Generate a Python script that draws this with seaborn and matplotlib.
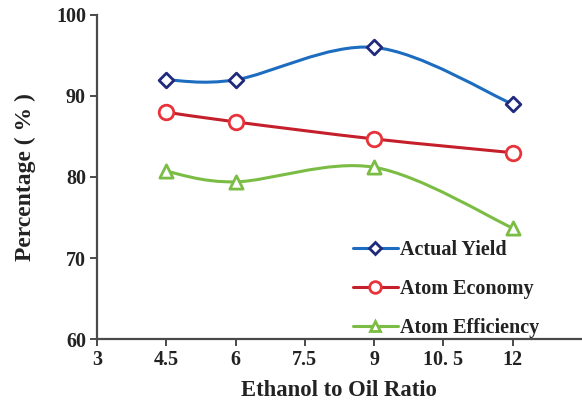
import numpy as np
import pandas as pd
import seaborn as sns
import matplotlib
matplotlib.use("Agg")
import matplotlib.pyplot as plt
from matplotlib.path import Path
from matplotlib.patches import PathPatch
from matplotlib.lines import Line2D

# Data
ratio = [4.5, 6, 9, 12]
actual_yield = [92.0, 92.0, 96.0, 89.0]
atom_economy = [88.0, 86.8, 84.7, 83.0]
atom_efficiency = [80.7, 79.4, 81.2, 73.7]
series_names = ["Actual Yield", "Atom Economy", "Atom Efficiency"]
x_ticks = [3, 4.5, 6, 7.5, 9, 10.5, 12]
x_tick_labels = ["3", "4.5", "6", "7.5", "9", "10. 5", "12"]
y_ticks = [60, 70, 80, 90, 100]

sns.set_theme(style="white")
plt.rcParams["font.family"] = ["Liberation Serif", "DejaVu Serif"]
plt.rcParams["font.weight"] = "bold"

styles = {
    "Actual Yield": dict(line="#1c6cc0", edge="#1f2a7c", marker="D", ms=7.5),
    "Atom Economy": dict(line="#c41f2a", edge="#e8333a", marker="o", ms=10.5),
    "Atom Efficiency": dict(line="#7bbd44", edge="#7bbd44", marker="^", ms=9.5),
}

df = pd.DataFrame({
    "ratio": ratio * 3,
    "value": actual_yield + atom_economy + atom_efficiency,
    "series": np.repeat(series_names, len(ratio)),
})

fig = plt.figure(figsize=(5.82, 4.03), dpi=100)
ax = fig.add_axes([0.1667, 0.1588, 0.833, 0.804])


def smooth_path(xs, ys, tension=1 / 6):
    """Cubic Bezier path through the points (Catmull-Rom style tangents)."""
    pts = np.column_stack([xs, ys]).astype(float)
    n = len(pts)
    verts = [pts[0]]
    codes = [Path.MOVETO]
    for i in range(n - 1):
        p_prev = pts[i - 1] if i > 0 else pts[i]
        p_next = pts[i + 2] if i + 2 < n else pts[i + 1]
        c1 = pts[i] + (pts[i + 1] - p_prev) * tension
        c2 = pts[i + 1] - (p_next - pts[i]) * tension
        verts += [c1, c2, pts[i + 1]]
        codes += [Path.CURVE4] * 3
    return Path(verts, codes)


for name in series_names:
    st = styles[name]
    sub = df[df["series"] == name]
    ax.add_patch(PathPatch(smooth_path(sub["ratio"], sub["value"]),
                           facecolor="none", edgecolor=st["line"], lw=2.2,
                           zorder=2))
    sns.scatterplot(data=sub, x="ratio", y="value", ax=ax, marker=st["marker"],
                    s=st["ms"] ** 2, facecolor="white", edgecolor=st["edge"],
                    linewidth=2.0, zorder=3, legend=False)

ax.set_xlim(3, 13.5)
ax.set_ylim(60, 100)
ax.set_xticks(x_ticks)
ax.set_xticklabels(x_tick_labels)
ax.set_yticks(y_ticks)

for side in ["top", "right"]:
    ax.spines[side].set_visible(False)
for side in ["left", "bottom"]:
    ax.spines[side].set_color("#4a4a4a")
    ax.spines[side].set_linewidth(1.6)

ax.tick_params(axis="both", direction="out", length=5, width=1.4,
               color="#4a4a4a", labelsize=14.5, labelcolor="#222222",
               left=True, bottom=True, pad=3)
for lbl in ax.get_xticklabels() + ax.get_yticklabels():
    lbl.set_fontweight("bold")

ax.set_xlabel("Ethanol to Oil Ratio", fontsize=16.3, fontweight="bold",
              color="#222222", labelpad=7)
ax.set_ylabel("Percentage ( % )", fontsize=17, fontweight="bold",
              color="#222222", labelpad=14)

handles = [
    Line2D([], [], color=styles[n]["line"], lw=2.2, marker=styles[n]["marker"],
           markersize=styles[n]["ms"] * 0.8, markerfacecolor="white",
           markeredgecolor=styles[n]["edge"], markeredgewidth=2.0)
    for n in series_names
]
leg = ax.legend(handles, series_names, loc="upper left",
                bbox_to_anchor=(0.512, 0.33), frameon=False,
                prop=dict(family="Liberation Serif", weight="bold", size=14.5),
                handlelength=2.2, handletextpad=0.12, labelspacing=0.95,
                borderaxespad=0)
for t in leg.get_texts():
    t.set_color("#222222")

fig.savefig("out.png", dpi=100)
